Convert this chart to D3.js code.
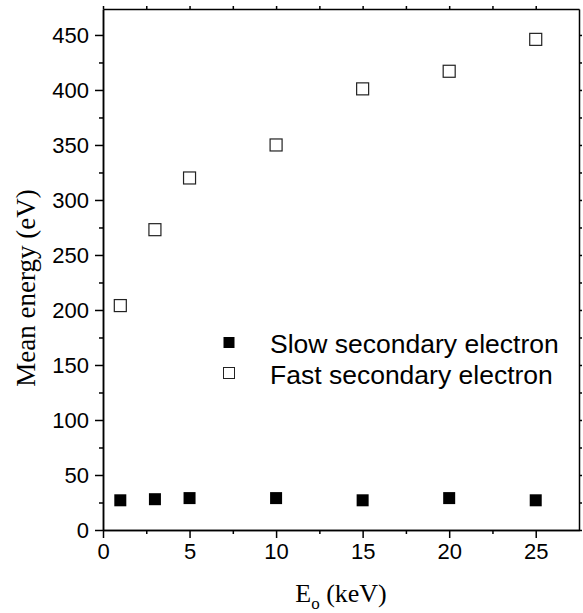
<!DOCTYPE html>
<html>
<head>
<meta charset="utf-8">
<script src="https://cdn.jsdelivr.net/npm/d3@7"></script>
<style>
  body { margin: 0; background: #fff; }
  svg { display: block; }
</style>
</head>
<body>
<script>
// data
var energies = [1, 3, 5, 10, 15, 20, 25];          // Eo (keV)
var slowMean = [27, 28, 29, 29, 27, 29, 27];       // slow secondary electron (eV)
var fastMean = [204, 273, 320, 350, 401, 417, 446]; // fast secondary electron (eV)
var xTicks = [0, 5, 10, 15, 20, 25];
var yTicks = [0, 50, 100, 150, 200, 250, 300, 350, 400, 450];
var seriesNames = ["Slow secondary electron", "Fast secondary electron"];

(function() {
    var W = 583, H = 613;
    var m = { left: 103, right: 579, top: 9, bottom: 530 };

    var svg = d3.select("body").append("svg")
        .attr("width", W)
        .attr("height", H);

    var x = d3.scaleLinear().domain([0, 27.5]).range([m.left, m.right]);
    var y = d3.scaleLinear().domain([0, 473.6]).range([m.bottom, m.top]);

    var xMinor = d3.range(0, 27.5, 2.5).filter(function(v) { return v % 5 !== 0; });
    var yMinor = d3.range(25, 475, 50);

    // bottom axis
    var gx = svg.append("g")
        .attr("transform", "translate(0," + m.bottom + ")")
        .call(d3.axisBottom(x).tickValues(xTicks).tickSize(8).tickPadding(5).tickSizeOuter(0));
    gx.append("g").call(d3.axisBottom(x).tickValues(xMinor).tickSize(4).tickFormat("").tickSizeOuter(0));

    // left axis
    var gy = svg.append("g")
        .attr("transform", "translate(" + m.left + ",0)")
        .call(d3.axisLeft(y).tickValues(yTicks).tickSize(8).tickPadding(6).tickSizeOuter(0));
    gy.append("g").call(d3.axisLeft(y).tickValues(yMinor).tickSize(4).tickFormat("").tickSizeOuter(0));

    // top and right frame with small ticks
    svg.append("g")
        .attr("transform", "translate(0," + m.top + ")")
        .call(d3.axisTop(x).tickValues(xTicks.concat(xMinor)).tickSize(3).tickFormat("").tickSizeOuter(0));
    svg.append("g")
        .attr("transform", "translate(" + m.right + ",0)")
        .call(d3.axisRight(y).tickValues(yTicks.concat(yMinor)).tickSize(3).tickFormat("").tickSizeOuter(0));

    svg.selectAll(".domain, .tick line")
        .attr("stroke", "#000")
        .attr("stroke-width", 1.5);
    svg.selectAll(".tick text")
        .attr("fill", "#000")
        .style("font-family", "'Liberation Sans', Arial, sans-serif")
        .style("font-size", "22px");

    // axis titles
    svg.append("text")
        .attr("x", (m.left + m.right) / 2)
        .attr("y", 602)
        .attr("text-anchor", "middle")
        .style("font-family", "'Liberation Serif', 'Times New Roman', serif")
        .style("font-size", "26px")
        .html('E<tspan dy="7" font-size="17px">o</tspan><tspan dy="-7"> (keV)</tspan>');

    svg.append("text")
        .attr("transform", "translate(35,288) rotate(-90)")
        .attr("text-anchor", "middle")
        .style("font-family", "'Liberation Serif', 'Times New Roman', serif")
        .style("font-size", "27px")
        .text("Mean energy (eV)");

    // markers
    var sz = 12;
    svg.append("g").selectAll("rect")
        .data(energies)
        .enter().append("rect")
        .attr("x", function(d) { return x(d) - sz / 2; })
        .attr("y", function(d, i) { return y(slowMean[i]) - sz / 2; })
        .attr("width", sz)
        .attr("height", sz)
        .attr("fill", "#000");

    svg.append("g").selectAll("rect")
        .data(energies)
        .enter().append("rect")
        .attr("x", function(d) { return x(d) - sz / 2; })
        .attr("y", function(d, i) { return y(fastMean[i]) - sz / 2; })
        .attr("width", sz)
        .attr("height", sz)
        .attr("fill", "#fff")
        .attr("stroke", "#222")
        .attr("stroke-width", 1.2);

    // legend
    var legend = svg.append("g");
    var lsz = 11;
    seriesNames.forEach(function(name, i) {
        var cy = 342.5 + i * 30.5;
        legend.append("rect")
            .attr("x", 229 - lsz / 2)
            .attr("y", cy - lsz / 2)
            .attr("width", lsz)
            .attr("height", lsz)
            .attr("fill", i === 0 ? "#000" : "#fff")
            .attr("stroke", i === 0 ? "none" : "#222")
            .attr("stroke-width", 1);
        legend.append("text")
            .attr("x", 270)
            .attr("y", cy + 10.5)
            .style("font-family", "'Liberation Sans', Arial, sans-serif")
            .style("font-size", "26.5px")
            .text(name);
    });
})();
</script>
</body>
</html>
